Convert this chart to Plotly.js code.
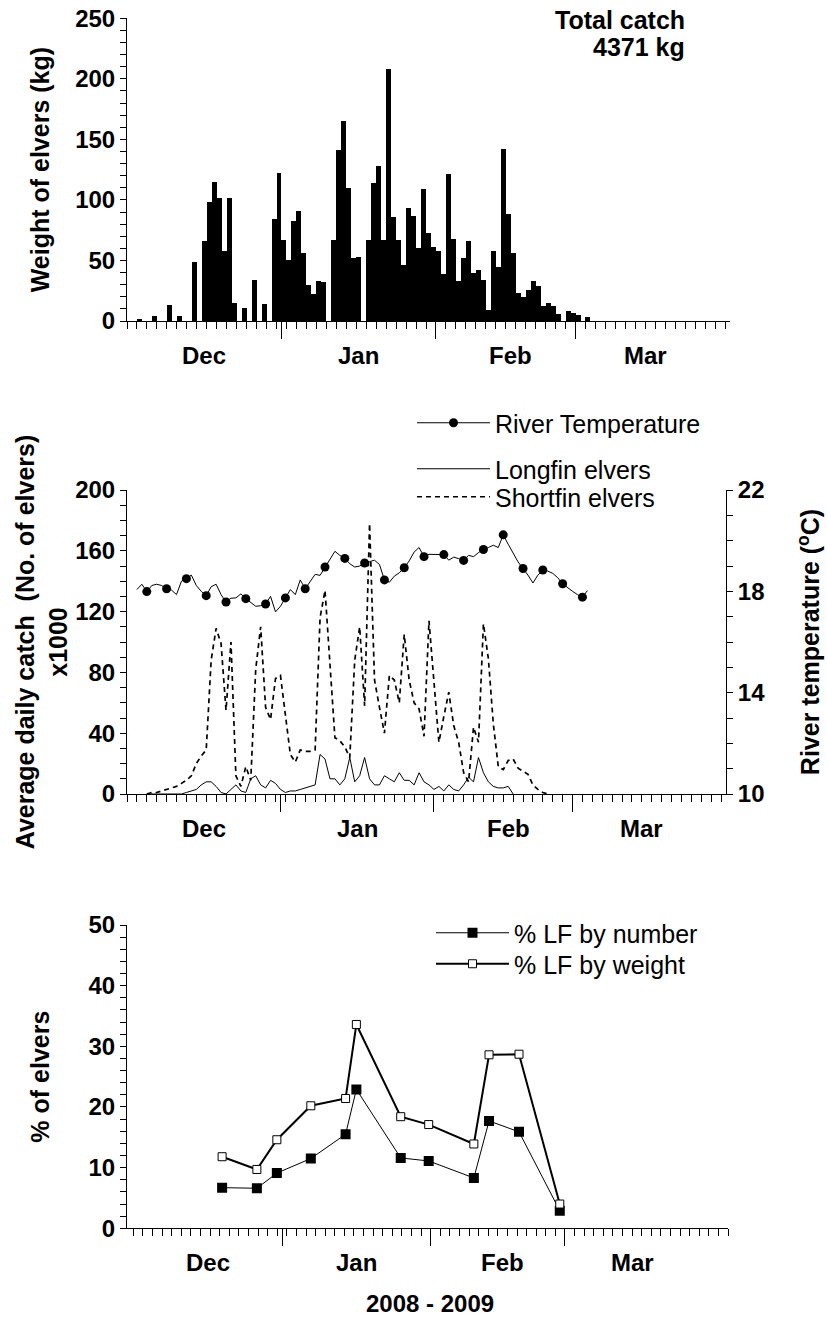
<!DOCTYPE html>
<html>
<head>
<meta charset="utf-8">
<script src="https://cdn.plot.ly/plotly-3.0.1.min.js"></script>
<style>html,body{margin:0;padding:0;background:#fff}</style>
</head>
<body>
<div id="chart" style="width:827px;height:1338px"></div>
<script>
// Elver catch season 2008 - 2009, daily values counted from 1 December 2008
const SEASON_START = '2008-12-01';

// Daily weight of elvers caught (kg), one value per day from 1 Dec
const catchKg = [
  0, 0, 2, 0, 0, 4, 0, 0, 13, 0, 4, 0, 0, 49, 0, 66, 98, 115, 102, 58,
  102, 15, 0, 11, 0, 34, 0, 14, 0, 84, 122, 67, 50, 83, 91, 56, 30, 22, 33, 32,
  0, 67, 141, 165, 110, 52, 53, 0, 67, 114, 128, 67, 208, 86, 67, 46, 93, 87, 60, 109,
  73, 61, 58, 39, 121, 68, 33, 52, 66, 40, 42, 34, 9, 58, 45, 142, 88, 56, 23, 20,
  26, 33, 29, 12, 15, 12, 6, 0, 8, 7, 5, 0, 3
];

// Daily river temperature (°C) from 3 Dec; a marker is shown every 4th day
const tempFirstDay = 2;
const riverTempC = [
  18.07, 18.28, 17.99, 18.23, 18.28, 18.23, 18.10, 18.05, 17.87, 18.40,
  18.50, 18.64, 18.23, 18.00, 17.83, 18.18, 18.28, 17.87, 17.58, 17.73,
  17.74, 17.90, 17.71, 17.56, 17.41, 17.43, 17.50, 17.80, 17.19, 17.41,
  17.74, 18.07, 17.87, 18.45, 18.10, 18.38, 18.67, 18.63, 18.96, 19.26,
  19.58, 19.42, 19.30, 19.09, 18.96, 19.00, 19.12, 19.17, 19.23, 19.06,
  18.45, 18.36, 18.60, 18.73, 18.93, 19.20, 19.55, 19.73, 19.37, 19.46,
  19.46, 19.46, 19.45, 19.23, 19.35, 19.29, 19.22, 19.42, 19.37, 19.53,
  19.65, 19.73, 19.82, 19.73, 20.23, 19.86, 19.50, 19.16, 18.90, 18.64,
  18.33, 18.64, 18.84, 18.80, 18.71, 18.54, 18.30, 18.14, 18.00, 17.87,
  17.77, 18.03
];
const tempMarkerEvery = 4;

// Average daily catch (thousands of elvers), one value per day from 5 Dec
const catchFirstDay = 4;
const shortfinK = [
  0, 1, 1, 2, 3, 4, 5, 7, 9, 12,
  20, 25, 29, 88, 109, 99, 55, 100, 12, 5,
  18, 9, 82, 110, 57, 49, 76, 78, 53, 26,
  21, 29, 28, 28, 29, 116, 134, 84, 37, 35,
  31, 24, 88, 110, 58, 178, 75, 57, 40, 78,
  75, 60, 105, 75, 60, 56, 38, 114, 76, 34,
  51, 67, 45, 34, 14, 8, 44, 34, 112, 89,
  46, 18, 16, 22, 23, 17, 15, 13, 6, 3,
  1, 0
];
const longfinK = [
  0, 0, 0, 0, 0, 0, 0, 0, 1, 2,
  3, 6, 8, 8, 5, 1, 0, 3, 6, 2,
  1, 10, 12, 6, 4, 9, 7, 3, 1, 2,
  2, 3, 4, 5, 6, 26, 23, 10, 10, 6,
  10, 24, 8, 12, 24, 10, 6, 6, 12, 10,
  8, 14, 9, 9, 6, 14, 8, 6, 3, 5,
  2, 6, 3, 2, 6, 11, 8, 24, 14, 8,
  5, 4, 4, 5, 0
];

// Longfin share of the catch (%)
const lfDates = ['2008-12-19 12:00', '2008-12-26 18:00', '2008-12-30 22:00', '2009-01-07', '2009-01-14 06:00',
                 '2009-01-16 12:00', '2009-01-25 18:00', '2009-01-31 14:00', '2009-02-10', '2009-02-13 04:00',
                 '2009-02-19 10:00', '2009-02-27 22:00'];
const lfByNumber = [6.7, 6.6, 9.1, 11.5, 15.5, 22.9, 11.6, 11.1, 8.3, 17.7, 15.9, 2.9];
const lfByWeight = [11.8, 9.7, 14.6, 20.2, 21.4, 33.6, 18.4, 17.1, 13.9, 28.6, 28.7, 4.0];

// Month axis
const monthNames = ['Dec', 'Jan', 'Feb', 'Mar'];
const monthMiddles = ['2008-12-16 12:00', '2009-01-16 12:00', '2009-02-16', '2009-03-15'];
const monthStarts = ['2009-01-01', '2009-02-01', '2009-03-01'];
const seasonRange = ['2008-12-01', '2009-04-01'];
const shareRange = ['2008-11-29 16:00', '2009-04-04'];

function addDays(iso, n) {
  const d = new Date(iso + 'T00:00:00Z');
  d.setUTCDate(d.getUTCDate() + n);
  return d.toISOString().slice(0, 10);
}
function dayList(count, offset) {
  return Array.from({length: count}, (_, i) => addDays(SEASON_START, i + offset));
}

// Page geometry (pixels) turned into paper fractions
const W = 827, H = 1338;
const px = v => v / W;
const py = v => 1 - v / H;

const FONT = 'Liberation Sans, Arial, sans-serif';
const TICK_FONT = {family: FONT, size: 24, color: '#000', weight: 'bold'};
const TITLE_FONT = {family: FONT, size: 25, color: '#000', weight: 'bold'};
const LEGEND_FONT = {family: FONT, size: 25, color: '#000'};
const DAY = 86400000;

function timeAxis(domain, anchor, range) {
  return {
    type: 'date', range: range, domain: domain, anchor: anchor,
    showline: true, linecolor: '#000', linewidth: 1, mirror: false,
    showgrid: false, zeroline: false, showticklabels: false,
    tickmode: 'array', tickvals: monthStarts,
    ticks: 'outside', ticklen: 17, tickcolor: '#000', tickwidth: 1,
    minor: {dtick: 2 * DAY, tick0: SEASON_START, ticks: 'outside', ticklen: 7,
            tickcolor: '#000', tickwidth: 1, showgrid: false}
  };
}
function valueAxis(domain, anchor, range, dtick, minorDtick, extra) {
  return Object.assign({
    domain: domain, anchor: anchor, range: range,
    showline: true, linecolor: '#000', linewidth: 1,
    showgrid: false, zeroline: false,
    dtick: dtick, tick0: range[0], ticks: 'outside', ticklen: 6, tickcolor: '#000',
    tickfont: TICK_FONT,
    minor: {dtick: minorDtick, ticks: 'outside', ticklen: 6, tickcolor: '#000', showgrid: false}
  }, extra || {});
}
function legendAt(xPix, yPix) {
  return {x: px(xPix), y: py(yPix), xanchor: 'left', yanchor: 'middle', font: LEGEND_FONT,
          bgcolor: 'rgba(0,0,0,0)', itemwidth: 73, tracegroupgap: 0};
}

const tempDays = dayList(riverTempC.length, tempFirstDay);
const markerIdx = [];
riverTempC.forEach((_, i) => { if ((i + tempFirstDay) % tempMarkerEvery === 0) markerIdx.push(i); });

const traces = [
  {
    type: 'bar', name: 'Weight of elvers', x: dayList(catchKg.length, 0), y: catchKg,
    xperiod: DAY, xperiodalignment: 'middle', width: DAY,
    marker: {color: '#000', line: {width: 0}},
    xaxis: 'x', yaxis: 'y', showlegend: false
  },
  {
    type: 'scatter', mode: 'lines+markers', name: 'River Temperature',
    x: tempDays, y: riverTempC, xaxis: 'x2', yaxis: 'y4',
    line: {color: '#000', width: 1},
    marker: {color: '#000', size: 9, symbol: 'circle'},
    selectedpoints: markerIdx,
    selected: {marker: {opacity: 1}}, unselected: {marker: {opacity: 0}},
    legend: 'legend'
  },
  {
    type: 'scatter', mode: 'lines', name: 'Longfin elvers',
    x: dayList(longfinK.length, catchFirstDay), y: longfinK, xaxis: 'x2', yaxis: 'y2',
    line: {color: '#000', width: 1}, legend: 'legend2'
  },
  {
    type: 'scatter', mode: 'lines', name: 'Shortfin elvers',
    x: dayList(shortfinK.length, catchFirstDay), y: shortfinK, xaxis: 'x2', yaxis: 'y2',
    line: {color: '#000', width: 1.7, dash: '5px,4px'}, legend: 'legend4'
  },
  {
    type: 'scatter', mode: 'lines+markers', name: '% LF by number',
    x: lfDates, y: lfByNumber, xaxis: 'x3', yaxis: 'y3',
    line: {color: '#000', width: 1},
    marker: {color: '#000', size: 10, symbol: 'square'},
    legend: 'legend3'
  },
  {
    type: 'scatter', mode: 'lines+markers', name: '% LF by weight',
    x: lfDates, y: lfByWeight, xaxis: 'x3', yaxis: 'y3',
    line: {color: '#000', width: 2},
    marker: {color: '#fff', size: 8, symbol: 'square', line: {color: '#000', width: 1}},
    legend: 'legend5'
  }
];

// Month names under each time axis
const annotations = [];
[['x', 355], ['x2', 828], ['x3', 1262]].forEach(([ax, yPix]) => {
  monthNames.forEach((m, i) => annotations.push({
    xref: ax, yref: 'paper', x: monthMiddles[i], y: py(yPix),
    text: m, showarrow: false, font: TICK_FONT, xanchor: 'center', yanchor: 'middle'
  }));
});
// Season total printed in the corner of the catch chart
[['Total catch', 20], ['4371 kg', 47]].forEach(([txt, yPix]) => annotations.push({
  xref: 'paper', yref: 'paper', x: px(687), y: py(yPix), xanchor: 'right', yanchor: 'middle',
  showarrow: false, text: txt, font: TITLE_FONT
}));
// Shared time-axis caption
annotations.push({
  xref: 'paper', yref: 'paper', x: px(430), y: py(1303), xanchor: 'center', yanchor: 'middle',
  showarrow: false, text: '2008 - 2009', font: TICK_FONT
});

const layout = {
  width: W, height: H,
  margin: {l: 0, r: 0, t: 0, b: 0},
  paper_bgcolor: '#fff', plot_bgcolor: 'rgba(0,0,0,0)',
  bargap: 0,
  font: {family: FONT, color: '#000'},
  xaxis: timeAxis([px(127), px(730)], 'y', seasonRange),
  yaxis: valueAxis([py(321), py(18.3)], 'x', [0, 250], 50, 10, {
    title: {text: 'Weight of elvers (kg)', font: TITLE_FONT, standoff: 18}
  }),
  xaxis2: timeAxis([px(127), px(726)], 'y2', seasonRange),
  yaxis2: valueAxis([py(794), py(490)], 'x2', [0, 200], 40, 10, {
    title: {text: 'Average daily catch  (No. of elvers)<br>x1000', font: TITLE_FONT, standoff: 0}
  }),
  yaxis4: valueAxis([py(794), py(490)], 'x2', [10, 22], 4, 1, {
    overlaying: 'y2', side: 'right',
    title: {text: 'River temperature (<sup>o</sup>C)', font: TITLE_FONT, standoff: 37}
  }),
  xaxis3: timeAxis([px(127), px(728)], 'y3', shareRange),
  yaxis3: valueAxis([py(1228.3), py(925)], 'x3', [0, 50], 10, 2, {
    title: {text: '% of elvers', font: TITLE_FONT, standoff: 31}
  }),
  annotations: annotations,
  legend: legendAt(412, 423),
  legend2: legendAt(412, 469),
  legend4: legendAt(412, 497),
  legend3: legendAt(431, 933),
  legend5: legendAt(431, 964)
};

Plotly.newPlot('chart', traces, layout, {staticPlot: true, displayModeBar: false});
</script>
</body>
</html>
